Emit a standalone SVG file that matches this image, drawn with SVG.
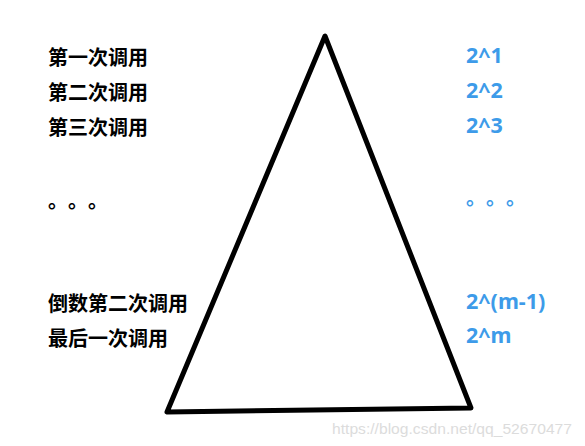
<svg xmlns="http://www.w3.org/2000/svg" width="585" height="446" viewBox="0 0 585 446">
<style>
.cn{font-family:"Noto Sans CJK SC","Noto Sans",sans-serif;font-weight:bold;font-size:20px;fill:#000}
.num{font-family:"Noto Sans","Open Sans",sans-serif;font-weight:bold;font-size:21.5px;fill:#3d9be9}
.dotb{font-family:"Noto Sans CJK SC",sans-serif;font-weight:bold;font-size:20px;fill:#3d9be9}
.dotk{font-family:"Noto Sans CJK SC",sans-serif;font-weight:bold;font-size:20px;fill:#000}
.wm{font-family:"Liberation Sans",Arial,sans-serif;font-size:15.5px;fill:#dcdcdc}
</style>
<rect width="585" height="446" fill="#fff"/>
<g id="triangle">
<polygon points="325,36 167,412 471,408" fill="none" stroke="#000" stroke-width="5" stroke-linejoin="round"/>
</g>
<g id="left-labels">
<text class="cn" x="48" y="65">第一次调用</text>
<text class="cn" x="48" y="100">第二次调用</text>
<text class="cn" x="48" y="135">第三次调用</text>
<text class="dotk" x="48 68 88" y="208">。。。</text>
<text class="cn" x="48" y="311">倒数第二次调用</text>
<text class="cn" x="48" y="346">最后一次调用</text>
</g>
<g id="right-labels">
<text class="num" x="466" y="63">2^1</text>
<text class="num" x="466" y="98">2^2</text>
<text class="num" x="466" y="133">2^3</text>
<text class="dotb" x="466 486 506" y="205">。。。</text>
<text class="num" x="466" y="309">2^(m-1)</text>
<text class="num" x="466" y="343">2^m</text>
</g>
<text class="wm" x="332" y="434" textLength="240" lengthAdjust="spacingAndGlyphs">https://blog.csdn.net/qq_52670477</text>
</svg>
